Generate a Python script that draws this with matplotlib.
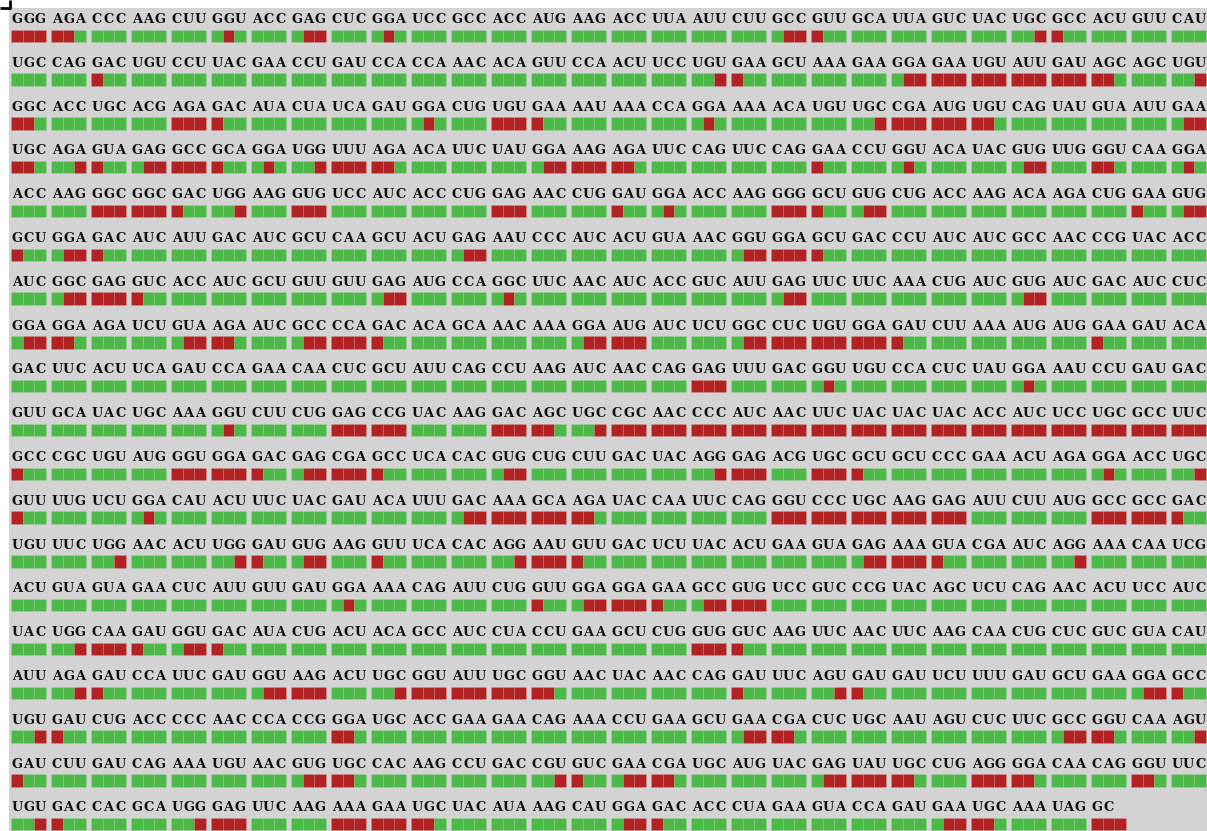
import matplotlib
matplotlib.use("Agg")
import matplotlib.pyplot as plt
from matplotlib.patches import Rectangle
from matplotlib.collections import PatchCollection

# sequence, one string of codons per displayed row
SEQ_ROWS = [
    "GGG AGA CCC AAG CUU GGU ACC GAG CUC GGA UCC GCC ACC AUG AAG ACC UUA AUU CUU GCC GUU GCA UUA GUC UAC UGC GCC ACU GUU CAU",
    "UGC CAG GAC UGU CCU UAC GAA CCU GAU CCA CCA AAC ACA GUU CCA ACU UCC UGU GAA GCU AAA GAA GGA GAA UGU AUU GAU AGC AGC UGU",
    "GGC ACC UGC ACG AGA GAC AUA CUA UCA GAU GGA CUG UGU GAA AAU AAA CCA GGA AAA ACA UGU UGC CGA AUG UGU CAG UAU GUA AUU GAA",
    "UGC AGA GUA GAG GCC GCA GGA UGG UUU AGA ACA UUC UAU GGA AAG AGA UUC CAG UUC CAG GAA CCU GGU ACA UAC GUG UUG GGU CAA GGA",
    "ACC AAG GGC GGC GAC UGG AAG GUG UCC AUC ACC CUG GAG AAC CUG GAU GGA ACC AAG GGG GCU GUG CUG ACC AAG ACA AGA CUG GAA GUG",
    "GCU GGA GAC AUC AUU GAC AUC GCU CAA GCU ACU GAG AAU CCC AUC ACU GUA AAC GGU GGA GCU GAC CCU AUC AUC GCC AAC CCG UAC ACC",
    "AUC GGC GAG GUC ACC AUC GCU GUU GUU GAG AUG CCA GGC UUC AAC AUC ACC GUC AUU GAG UUC UUC AAA CUG AUC GUG AUC GAC AUC CUC",
    "GGA GGA AGA UCU GUA AGA AUC GCC CCA GAC ACA GCA AAC AAA GGA AUG AUC UCU GGC CUC UGU GGA GAU CUU AAA AUG AUG GAA GAU ACA",
    "GAC UUC ACU UCA GAU CCA GAA CAA CUC GCU AUU CAG CCU AAG AUC AAC CAG GAG UUU GAC GGU UGU CCA CUC UAU GGA AAU CCU GAU GAC",
    "GUU GCA UAC UGC AAA GGU CUU CUG GAG CCG UAC AAG GAC AGC UGC CGC AAC CCC AUC AAC UUC UAC UAC UAC ACC AUC UCC UGC GCC UUC",
    "GCC CGC UGU AUG GGU GGA GAC GAG CGA GCC UCA CAC GUG CUG CUU GAC UAC AGG GAG ACG UGC GCU GCU CCC GAA ACU AGA GGA ACC UGC",
    "GUU UUG UCU GGA CAU ACU UUC UAC GAU ACA UUU GAC AAA GCA AGA UAC CAA UUC CAG GGU CCC UGC AAG GAG AUU CUU AUG GCC GCC GAC",
    "UGU UUC UGG AAC ACU UGG GAU GUG AAG GUU UCA CAC AGG AAU GUU GAC UCU UAC ACU GAA GUA GAG AAA GUA CGA AUC AGG AAA CAA UCG",
    "ACU GUA GUA GAA CUC AUU GUU GAU GGA AAA CAG AUU CUG GUU GGA GGA GAA GCC GUG UCC GUC CCG UAC AGC UCU CAG AAC ACU UCC AUC",
    "UAC UGG CAA GAU GGU GAC AUA CUG ACU ACA GCC AUC CUA CCU GAA GCU CUG GUG GUC AAG UUC AAC UUC AAG CAA CUG CUC GUC GUA CAU",
    "AUU AGA GAU CCA UUC GAU GGU AAG ACU UGC GGU AUU UGC GGU AAC UAC AAC CAG GAU UUC AGU GAU GAU UCU UUU GAU GCU GAA GGA GCC",
    "UGU GAU CUG ACC CCC AAC CCA CCG GGA UGC ACC GAA GAA CAG AAA CCU GAA GCU GAA CGA CUC UGC AAU AGU CUC UUC GCC GGU CAA AGU",
    "GAU CUU GAU CAG AAA UGU AAC GUG UGC CAC AAG CCU GAC CGU GUC GAA CGA UGC AUG UAC GAG UAU UGC CUG AGG GGA CAA CAG GGU UUC",
    "UGU GAC CAC GCA UGG GAG UUC AAG AAA GAA UGC UAC AUA AAG CAU GGA GAC ACC CUA GAA GUA CCA GAU GAA UGC AAA UAG GC",
]

# per-nucleotide flag (1 = red, 0 = green), grouped like the codons
FLAG_ROWS = [
    "111 110 000 000 000 010 000 011 000 010 000 000 000 000 000 000 000 000 000 011 100 000 000 000 000 001 100 000 000 000",
    "000 000 100 000 000 000 000 000 000 000 000 000 000 000 000 000 000 001 100 000 000 000 011 111 111 111 111 110 000 001",
    "110 000 000 000 111 100 000 000 000 000 010 000 111 100 000 000 000 010 000 000 000 001 111 111 110 000 000 000 000 011",
    "110 001 100 011 111 100 010 001 111 110 000 000 000 011 111 110 000 000 000 000 100 000 010 000 000 011 000 110 000 010",
    "000 000 111 111 100 001 000 111 000 000 000 000 111 000 000 100 010 000 000 111 100 011 000 000 000 000 000 000 100 011",
    "100 011 100 000 000 000 000 000 000 000 000 011 000 000 000 000 000 000 011 111 100 000 000 000 000 000 000 000 000 000",
    "000 011 111 100 000 000 000 000 000 011 000 000 010 000 000 000 000 000 000 011 000 000 000 000 000 011 000 000 000 000",
    "011 110 000 000 011 110 000 011 111 100 000 000 000 000 011 111 000 000 011 111 111 111 100 000 000 000 000 100 000 000",
    "000 000 000 000 000 000 000 000 000 000 000 000 000 000 000 000 000 111 000 000 010 000 000 000 000 010 000 000 000 000",
    "000 000 000 000 000 010 000 000 111 111 000 000 111 110 001 111 111 111 111 111 111 111 111 111 111 111 111 111 111 111",
    "100 000 000 000 111 111 100 011 111 100 000 000 011 000 000 000 000 001 111 000 111 100 000 000 000 000 000 010 000 001",
    "100 000 000 010 000 000 000 000 000 000 000 011 111 111 110 000 000 000 000 111 111 111 111 111 000 000 000 111 111 100",
    "000 000 001 000 000 001 100 011 000 100 000 000 001 111 100 000 000 000 000 000 000 011 111 100 000 000 001 000 000 000",
    "000 000 000 000 000 000 000 000 010 000 000 000 000 100 011 111 100 011 111 000 000 000 000 000 000 000 000 000 000 000",
    "000 001 111 100 011 100 000 000 000 000 000 000 000 000 000 000 000 111 100 000 000 000 000 000 000 000 000 000 000 000",
    "000 001 100 000 000 000 011 111 000 001 111 111 111 110 000 000 000 000 100 000 001 100 000 000 000 000 000 000 011 100",
    "001 100 000 000 000 000 000 000 110 000 000 000 000 000 000 000 000 000 011 110 000 000 000 000 000 000 011 110 000 001",
    "100 000 000 000 000 000 000 011 110 000 000 000 000 001 100 011 110 000 000 000 011 111 110 000 111 110 000 000 110 000",
    "001 100 000 000 001 111 000 000 111 111 110 000 000 000 000 011 100 000 000 000 000 000 000 011 110 000 000 111",
]

GREEN = "#4cb848"
RED = "#b22222"
PANEL = "#d3d3d3"

# layout in pixels
X0, Y0 = 11, 29.5        # top-left of first cell
CODON_STEP = 40.0
CELL_W = 35.0 / 3
CELL_H = 12.5
ROW_STEP = 43.8

fig = plt.figure(figsize=(12.07, 8.31), dpi=100)
ax = fig.add_axes([0, 0, 1, 1])
ax.set_xlim(0, 1207)
ax.set_ylim(831, 0)
ax.axis("off")

ax.add_patch(Rectangle((9, 7.5), 1207, 840, facecolor=PANEL, edgecolor="none", zorder=0))
# little corner mark top-left
ax.plot([0, 10, 10], [8, 8, 0], color="black", lw=2, solid_capstyle="butt", zorder=1)

cells, colors = [], []
for r, (seq, flags) in enumerate(zip(SEQ_ROWS, FLAG_ROWS)):
    y = Y0 + r * ROW_STEP
    for c, (codon, grp) in enumerate(zip(seq.split(), flags.split())):
        x = X0 + c * CODON_STEP
        for k, f in enumerate(grp):
            cells.append(Rectangle((x + k * CELL_W, y), CELL_W, CELL_H))
            colors.append(RED if f == "1" else GREEN)
        for k, ch in enumerate(codon):
            ax.text(x + (k + 0.5) * CELL_W, y - 10.0, ch, ha="center", va="center",
                    fontsize=9.4, fontweight="bold", family="DejaVu Serif", color="#111111")

pc = PatchCollection(cells, facecolors=colors, edgecolors=(1, 1, 1, 0.12), linewidths=0.5, zorder=2)
ax.add_collection(pc)

fig.savefig("out.png", dpi=100)
